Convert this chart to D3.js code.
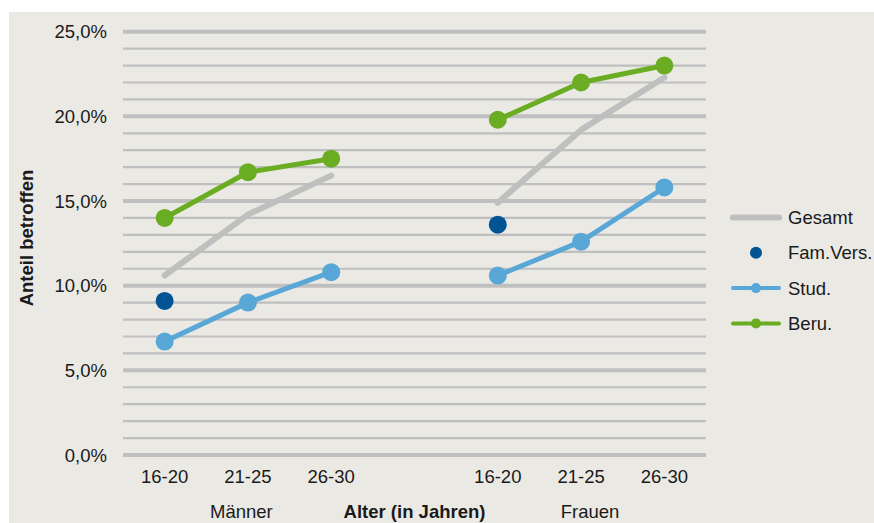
<!DOCTYPE html>
<html>
<head>
<meta charset="utf-8">
<script src="https://cdn.jsdelivr.net/npm/d3@7/dist/d3.min.js"></script>
<style>
  body { margin: 0; background: #fff; }
  text { font-family: "Liberation Sans", Arial, sans-serif; fill: #1a1a1a; }
</style>
</head>
<body>
<svg id="chart" width="874" height="523"></svg>
<script>
// slots on the x axis; the empty one separates the two groups
var slots = ["m1", "m2", "m3", "gap", "f1", "f2", "f3"];
var slotLabels = ["16-20", "21-25", "26-30", "", "16-20", "21-25", "26-30"];
// group label, slot it sits under, small shift seen in the original
var groupLabels = [["Männer", "m2", -6.5], ["Frauen", "f2", 9]];

var maleSlots = ["m1", "m2", "m3"];
var femaleSlots = ["f1", "f2", "f3"];

// values in percent
var gesamtM = [10.6, 14.2, 16.5];
var gesamtF = [14.9, 19.2, 22.3];
var famVersM = [9.1];
var famVersF = [13.6];
var studM = [6.7, 9.0, 10.8];
var studF = [10.6, 12.6, 15.8];
var beruM = [14.0, 16.7, 17.5];
var beruF = [19.8, 22.0, 23.0];

var yTicks = [0, 5, 10, 15, 20, 25];

var colors = {
    gesamt: "#bfbfbf",
    famvers: "#005494",
    stud: "#58a7d6",
    beru: "#6aad22"
};

var fontSize = "18.5px";

var svg = d3.select("#chart");

// background panel
svg.append("rect")
    .attr("x", 9).attr("y", 12)
    .attr("width", 865).attr("height", 511)
    .attr("fill", "#ebe9e4");

var x = d3.scaleBand().domain(slots).range([123, 706]);
var y = d3.scaleLinear().domain([0, 25]).range([455, 31.7]);

// gridlines, every 1 %
var g = svg.append("g");
g.selectAll("line.grid")
    .data(d3.range(0, 26))
    .enter()
    .append("line")
    .attr("class", "grid")
    .attr("x1", 123).attr("x2", 706)
    .attr("y1", function (d) { return y(d); })
    .attr("y2", function (d) { return y(d); })
    .attr("stroke", "#bfbfbf")
    .attr("stroke-width", function (d) { return d % 5 === 0 ? 4 : 2.2; });

// y axis labels
g.selectAll("text.ytick")
    .data(yTicks)
    .enter()
    .append("text")
    .attr("x", 107)
    .attr("y", function (d) { return y(d) + 6.5; })
    .attr("text-anchor", "end")
    .style("font-size", fontSize)
    .text(function (d) { return d3.format(".1f")(d).replace(".", ",") + "%"; });

// x axis labels
g.selectAll("text.xtick")
    .data(slots)
    .enter()
    .append("text")
    .attr("x", function (d) { return x(d) + x.bandwidth() / 2; })
    .attr("y", 483)
    .attr("text-anchor", "middle")
    .style("font-size", fontSize)
    .text(function (d, i) { return slotLabels[i]; });

g.selectAll("text.group")
    .data(groupLabels)
    .enter()
    .append("text")
    .attr("x", function (d) { return x(d[1]) + x.bandwidth() / 2 + d[2]; })
    .attr("y", 518)
    .attr("text-anchor", "middle")
    .style("font-size", fontSize)
    .text(function (d) { return d[0]; });

g.append("text")
    .attr("x", x("gap") + x.bandwidth() / 2)
    .attr("y", 518)
    .attr("text-anchor", "middle")
    .style("font-size", fontSize)
    .style("font-weight", "bold")
    .text("Alter (in Jahren)");

g.append("text")
    .attr("transform", "translate(33,238) rotate(-90)")
    .attr("text-anchor", "middle")
    .style("font-size", fontSize)
    .style("font-weight", "bold")
    .text("Anteil betroffen");

var cx = function (s) { return x(s) + x.bandwidth() / 2; };

function drawSeries(keys, values, color, width, withDots) {
    var pts = keys.map(function (k, i) { return [cx(k), y(values[i])]; });
    if (pts.length > 1) {
        g.append("path")
            .attr("d", d3.line()(pts))
            .attr("fill", "none")
            .attr("stroke", color)
            .attr("stroke-width", width)
            .attr("stroke-linecap", "round")
            .attr("stroke-linejoin", "round");
    }
    if (withDots) {
        g.selectAll(null)
            .data(pts)
            .enter()
            .append("circle")
            .attr("cx", function (d) { return d[0]; })
            .attr("cy", function (d) { return d[1]; })
            .attr("r", 9)
            .attr("fill", color);
    }
}

drawSeries(maleSlots, gesamtM, colors.gesamt, 6, false);
drawSeries(femaleSlots, gesamtF, colors.gesamt, 6, false);
drawSeries(["m1"], famVersM, colors.famvers, 0, true);
drawSeries(["f1"], famVersF, colors.famvers, 0, true);
drawSeries(maleSlots, studM, colors.stud, 5, true);
drawSeries(femaleSlots, studF, colors.stud, 5, true);
drawSeries(maleSlots, beruM, colors.beru, 5, true);
drawSeries(femaleSlots, beruF, colors.beru, 5, true);

// legend
var legendItems = [
    { name: "Gesamt", color: colors.gesamt, line: true, dot: 0 },
    { name: "Fam.Vers.", color: colors.famvers, line: false, dot: 6 },
    { name: "Stud.", color: colors.stud, line: true, dot: 5 },
    { name: "Beru.", color: colors.beru, line: true, dot: 5 }
];
var legend = svg.append("g").attr("transform", "translate(731,217.5)");
legendItems.forEach(function (d, i) {
    var row = legend.append("g").attr("transform", "translate(0," + (i * 35.3) + ")");
    if (d.line) {
        row.append("line")
            .attr("x1", 2).attr("x2", 48)
            .attr("y1", 0).attr("y2", 0)
            .attr("stroke", d.color)
            .attr("stroke-width", d.name === "Gesamt" ? 6 : 4)
            .attr("stroke-linecap", "round");
    }
    if (d.dot) {
        row.append("circle")
            .attr("cx", 25).attr("cy", 0)
            .attr("r", d.dot)
            .attr("fill", d.color);
    }
    row.append("text")
        .attr("x", 57).attr("y", 6.5)
        .style("font-size", fontSize)
        .text(d.name);
});
</script>
</body>
</html>
